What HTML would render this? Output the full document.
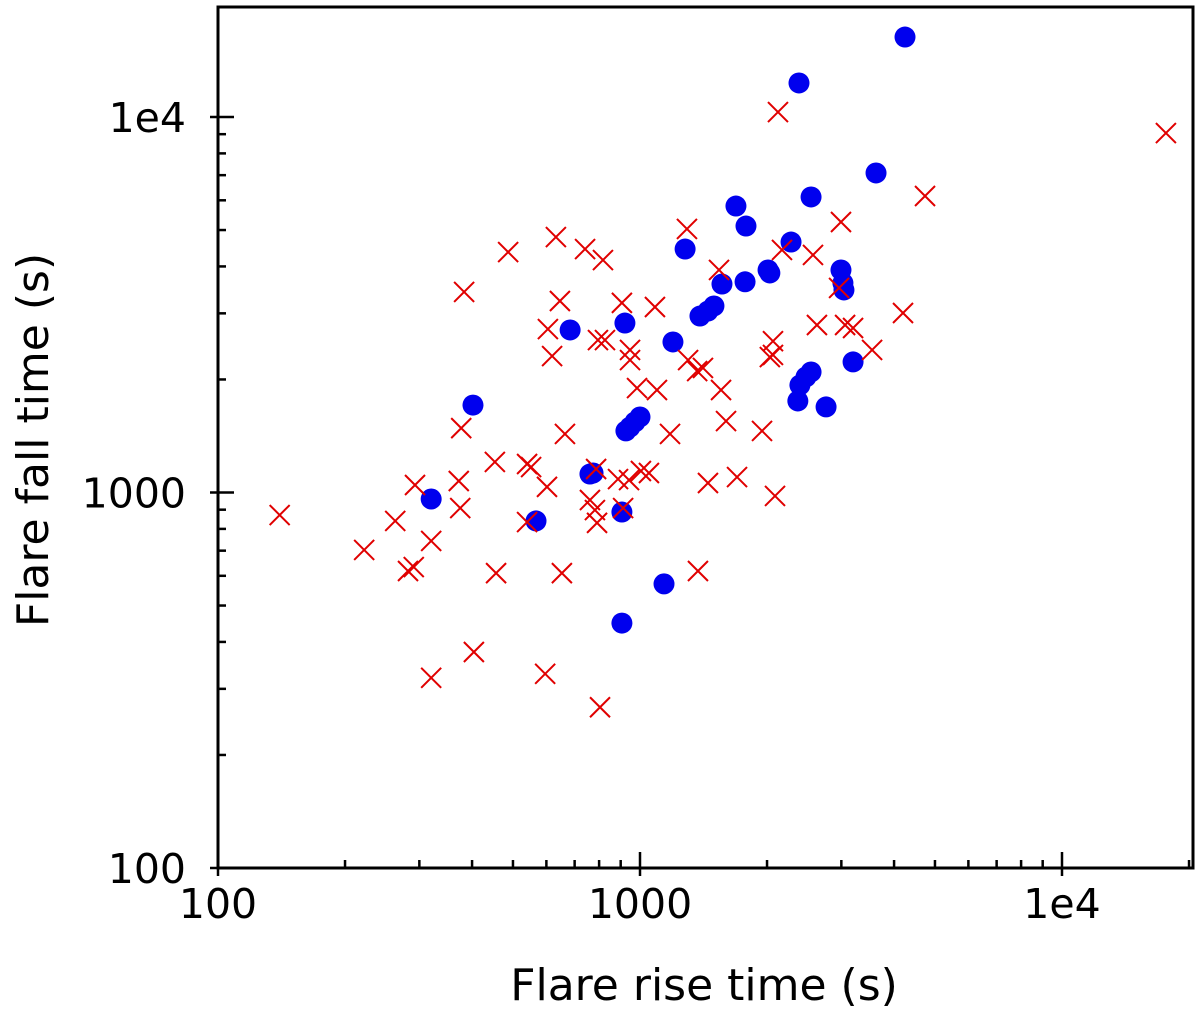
<!DOCTYPE html>
<html><head><meta charset="utf-8"><style>
html,body{margin:0;padding:0;background:#fff;}
svg{display:block;font-family:"DejaVu Sans","Liberation Sans",sans-serif;}
</style></head><body>
<svg id="chart" width="1200" height="1014" viewBox="0 0 1200 1014" xmlns="http://www.w3.org/2000/svg">
<g id="ticks"></g>
<g id="blue"></g>
<g id="red"></g>
<rect x="218" y="7" width="975" height="861" fill="none" stroke="#000" stroke-width="3"/>
<g id="labels" font-size="41" fill="#000"></g>
<text x="704" y="1000" font-size="44" text-anchor="middle">Flare rise time (s)</text>
<text transform="translate(48,440) rotate(-90)" font-size="44" text-anchor="middle">Flare fall time (s)</text>
</svg>
<script>
const blueX=[4246,2381,3625,2543,1688,1783,2280,1279,2011,2031,2994,3026,3043,1774,1564,1497,1449,1387,921,683,1197,402,1000,973,947,926,774,761,320,567,906,3198,2543,2474,2393,2366,2760,1140,906];
const blueY=[16330,12320,7096,6124,5793,5124,4645,4450,3914,3843,3914,3613,3462,3640,3590,3139,3043,2951,2827,2709,2517,1709,1589,1541,1494,1459,1127,1120,961,840,887,2227,2094,2031,1932,1753,1690,571,449];
const redX=[17630,2123,4736,2994,1292,487,632,741,817,2170,2570,1539,383,646,906,1085,605,826,947,619,947,2066,2066,2031,3062,2626,3198,2963,4200,3548,1300,1410,1366,984,1097,1556,377,664,1178,1599,1946,453,540,552,787,887,1005,1050,1698,2089,1449,293,372,602,761,942,912,375,782,263,791,540,222,320,291,282,140,456,653,1372,404,320,596,804,795];
const redY=[9063,10310,6160,5252,5033,4368,4790,4450,4160,4426,4291,3914,3420,3236,3199,3119,2725,2547,2397,2309,2253,2529,2325,2294,2793,2793,2742,3506,3006,2397,2253,2146,2106,1897,1875,1875,1484,1432,1432,1550,1459,1206,1191,1169,1155,1086,1141,1127,1099,979,1060,1047,1073,1035,955,1079,909,909,898,840,830,834,703,743,633,618,871,610,610,618,376,321,329,268,2547];
const xTickVals=[100,1000,10000];
const xTickLabels=["100","1000","1e4"];
const yTickVals=[100,1000,10000];
const yTickLabels=["100","1000","1e4"];

const NS="http://www.w3.org/2000/svg";
const X0=218,XD=422,Y0=868,YD=375.5;
function sx(v){return X0+(Math.log10(v)-2)*XD;}
function sy(v){return Y0-(Math.log10(v)-2)*YD;}
function mk(tag,attrs,parent){const e=document.createElementNS(NS,tag);for(const k in attrs)e.setAttribute(k,attrs[k]);parent.appendChild(e);return e;}

const tg=document.getElementById('ticks');
for(let d=100;d<=10000;d*=10){for(let m=1;m<=9;m++){const v=d*m;
 const x=sx(v); if(x<=1193){const major=m===1;
  const t=mk('line',{x1:x,x2:x,y1:major?876:868,y2:major?852:860,stroke:'#000','stroke-width':2.5},tg);
  
  }
 const y=sy(v); if(y>=7){const major=m===1;
  const t=mk('line',{x1:major?210:218,x2:major?234:226,y1:y,y2:y,stroke:'#000','stroke-width':2.5},tg);
  
  }
}}
const lg=document.getElementById('labels');
xTickVals.forEach((v,i)=>{const t=mk('text',{x:sx(v),y:918,'text-anchor':'middle'},lg);t.textContent=xTickLabels[i];
 
 });
yTickVals.forEach((v,i)=>{const t=mk('text',{x:186,y:sy(v)+15,'text-anchor':'end'},lg);t.textContent=yTickLabels[i];
 
 });

const bg=document.getElementById('blue');
blueX.forEach((v,i)=>{const c=mk('circle',{cx:sx(v),cy:sy(blueY[i]),r:10.5,fill:'#0000ee'},bg);
 
 });
const rg=document.getElementById('red');
redX.forEach((v,i)=>{const x=sx(v),y=sy(redY[i]),s=10;
 const p=mk('path',{d:`M${x-s},${y-s}L${x+s},${y+s}M${x-s},${y+s}L${x+s},${y-s}`,stroke:'#e00000','stroke-width':2,fill:'none'},rg);
 
 });
</script>
</body></html>
